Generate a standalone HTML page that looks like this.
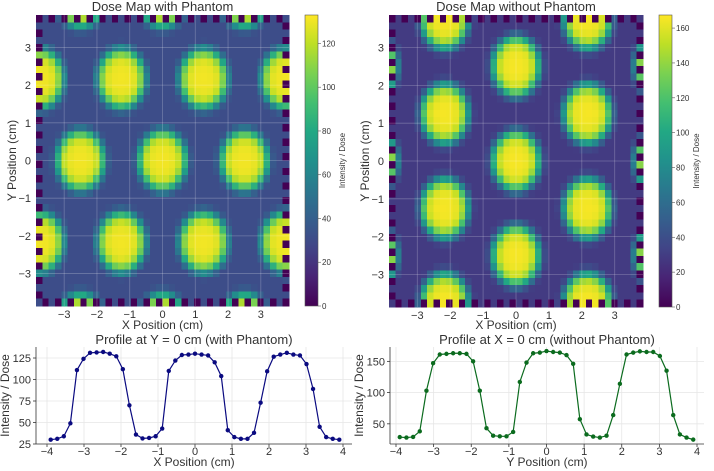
<!DOCTYPE html>
<html><head><meta charset="utf-8">
<style>
html,body{margin:0;padding:0;background:#fff;}
svg{display:block;font-family:"Liberation Sans","DejaVu Sans",sans-serif;}
</style></head>
<body>
<svg id="root" width="714" height="471" viewBox="0 0 714 471" xmlns="http://www.w3.org/2000/svg">
<defs>
<linearGradient id="vir" x1="0" y1="1" x2="0" y2="0">
<stop offset="0" stop-color="#440154"/><stop offset="0.1" stop-color="#482475"/><stop offset="0.2" stop-color="#414487"/><stop offset="0.3" stop-color="#355f8d"/><stop offset="0.4" stop-color="#2a788e"/><stop offset="0.5" stop-color="#21918c"/><stop offset="0.6" stop-color="#22a884"/><stop offset="0.7" stop-color="#44bf70"/><stop offset="0.8" stop-color="#7ad151"/><stop offset="0.9" stop-color="#bddf26"/><stop offset="1" stop-color="#fde725"/>
</linearGradient>
</defs>
<g id="layer"></g>
</svg>
<script>
// ---- data ----
const profileX = [];
for (let i = 0; i < 45; i++) profileX.push(-3.9 + i * 7.8 / 44);
const profileWith = [30,31,34,49,111,124,131,131.5,132,130,127,112,70,36,31.5,32,34,43,110,122,128.5,129,130,129,128,120,104,41,33,31,31,38,73,109.5,126.5,129,131,129,128,118,89,45,33,31,30];
const profileWithout = [28.7,28,29,38,103,147,161,162,163,163,162,150,103,43,31,30,30,37,117,148,163,164,166.5,165,164,160,146,57.5,33,29.6,28,31,64,114,161,164,166,165,165,158.6,135,64,33,28,24.7];
const spotsWithX = [0,-2.5,2.5,-1.25,1.25,-3.75,3.75,-1.25,1.25,-3.75,3.75,0,-2.5,2.5,0,-2.5,2.5];
const spotsWithY = [0,0,0,2.17,2.17,2.17,2.17,-2.17,-2.17,-2.17,-2.17,4.33,4.33,4.33,-4.33,-4.33,-4.33];
const spotsWithoutX = [0,0,0,-2.17,-2.17,2.17,2.17,-2.17,-2.17,2.17,2.17,-4.33,-4.33,-4.33,4.33,4.33,4.33];
const spotsWithoutY = [0,2.5,-2.5,1.25,-1.25,1.25,-1.25,3.75,-3.75,3.75,-3.75,0,2.5,-2.5,0,2.5,-2.5];
const radialR = [0,0.25,0.4,0.5,0.6,0.7,0.78,0.86,0.95];
const radialF = [1,0.99,0.96,0.9,0.75,0.5,0.25,0.08,0];
const peakWith = 131, bgWith = 31, maxWith = 133;
const peakWithout = 166, bgWithout = 29, maxWithout = 167.5;
const cbTicksWith = [0,20,40,60,80,100,120];
const cbTicksWithout = [0,20,40,60,80,100,120,140,160];
const mapTicks = [-3,-2,-1,0,1,2,3];
const profTicksX = [-4,-3,-2,-1,0,1,2,3,4];
const profTicksYWith = [25,50,75,100,125];
const profTicksYWithout = [50,100,150];

// ---- helpers ----
const NS = "http://www.w3.org/2000/svg";
const layer = document.getElementById('layer');
function mk(tag, attrs, parent) {
  const e = document.createElementNS(NS, tag);
  for (const k in attrs) e.setAttribute(k, attrs[k]);
  (parent || layer).appendChild(e);
  return e;
}
function txt(s, attrs, parent) { const e = mk('text', attrs, parent); e.textContent = s; return e; }
const vir = ["#440154","#482475","#414487","#355f8d","#2a788e","#21918c","#22a884","#44bf70","#7ad151","#bddf26","#fde725"];
function hex(h){return [parseInt(h.substr(1,2),16),parseInt(h.substr(3,2),16),parseInt(h.substr(5,2),16)];}
const virRGB = vir.map(hex);
function viridis(t){
  t = Math.max(0, Math.min(1, t)) * 10;
  const i = Math.min(9, Math.floor(t)), f = t - i;
  const a = virRGB[i], b = virRGB[i+1];
  return `rgb(${Math.round(a[0]+(b[0]-a[0])*f)},${Math.round(a[1]+(b[1]-a[1])*f)},${Math.round(a[2]+(b[2]-a[2])*f)})`;
}
function radial(r){
  if (r >= radialR[radialR.length-1]) return 0;
  for (let i = 1; i < radialR.length; i++) if (r <= radialR[i]) {
    const f = (r - radialR[i-1]) / (radialR[i] - radialR[i-1]);
    return radialF[i-1] + (radialF[i] - radialF[i-1]) * f;
  }
  return 0;
}

function drawMap(name, x0, y0, w, h, sx, sy, peak, bg, vmax, cbx, cbTicks, title) {
  const g = mk('g', {}, layer);
  
  
  const ext = 3.86, N = 40;
  const xs = v => x0 + (v + ext) / (2 * ext) * w;
  const ys = v => y0 + (ext - v) / (2 * ext) * h;
  const cw = w / N, ch = h / N;
  const cells = mk('g', {'shape-rendering': 'crispEdges'}, g);
  
  
  for (let j = 0; j < N; j++) for (let i = 0; i < N; i++) {
    const cx = -ext + (i + 0.5) * 2 * ext / N, cy = ext - (j + 0.5) * 2 * ext / N;
    let f = 0;
    for (let k = 0; k < sx.length; k++) {
      const d = Math.hypot(cx - sx[k], (cy - sy[k]) * 0.92);
      f = Math.max(f, radial(d));
    }
    let v = bg + (peak - bg) * f;
    const border = (i === 0 || j === 0 || i === N - 1 || j === N - 1);
    if (border && (i + j) % 2 === 0) v = 0;
    const r = mk('rect', {x: (x0 + i * cw).toFixed(2), y: (y0 + j * ch).toFixed(2), width: (cw + 0.6).toFixed(2), height: (ch + 0.6).toFixed(2), fill: viridis(v / vmax)}, cells);
    
    
  }
  mapTicks.forEach(t => {
    mk('line', {x1: xs(t), x2: xs(t), y1: y0, y2: y0 + h, stroke: '#ffffff', 'stroke-opacity': 0.25, 'stroke-width': 0.8}, g);
    mk('line', {x1: x0, x2: x0 + w, y1: ys(t), y2: ys(t), stroke: '#ffffff', 'stroke-opacity': 0.25, 'stroke-width': 0.8}, g);
    const lx = txt(t < 0 ? '\u2212' + (-t) : String(t), {x: xs(t), y: y0 + h + 12, 'font-size': 11, fill: '#333', 'text-anchor': 'middle'}, g);
    
    
    const ly = txt(t < 0 ? '\u2212' + (-t) : String(t), {x: x0 - 5, y: ys(t) + 4, 'font-size': 11, fill: '#333', 'text-anchor': 'end'}, g);
    
    
  });
  const tt = txt(title, {x: x0 + w / 2, y: 11, 'font-size': 13, fill: '#333', 'text-anchor': 'middle'}, g);
  
  
  const xl = txt('X Position (cm)', {x: x0 + w / 2, y: 329, 'font-size': 12, fill: '#333', 'text-anchor': 'middle'}, g);
  
  
  const yl = txt('Y Position (cm)', {x: 0, y: 0, 'font-size': 12, fill: '#333', 'text-anchor': 'middle', transform: `translate(${x0 - 20},${y0 + h / 2}) rotate(-90)`}, g);
  
  
  const cb = mk('rect', {x: cbx, y: y0, width: 13, height: h, fill: 'url(#vir)', stroke: '#555', 'stroke-width': 0.6}, g);
  
  
  cbTicks.forEach(t => {
    const yy = y0 + h - t / vmax * h;
    mk('line', {x1: cbx + 13, x2: cbx + 16, y1: yy, y2: yy, stroke: '#555', 'stroke-width': 0.6}, g);
    const l = txt(String(t), {x: cbx + 17, y: yy + 3, 'font-size': 8, fill: '#333'}, g);
    
    
  });
  const cl = txt('Intensity / Dose', {x: 0, y: 0, 'font-size': 8, fill: '#333', 'text-anchor': 'middle', transform: `translate(${cbx + 40},${y0 + h / 2}) rotate(-90)`}, g);
  
  
}

function drawProfile(name, ax0, ax1, ay0, ay1, xToPx, ylo, yhi, vals, ticksY, color, title, xlabel) {
  const g = mk('g', {}, layer);
  
  
  const xs = v => xToPx[0] + (v + 4) / 8 * (xToPx[1] - xToPx[0]);
  const ys = v => ay1 - (v - ylo) / (yhi - ylo) * (ay1 - ay0);
  profTicksX.forEach(t => {
    mk('line', {x1: xs(t), x2: xs(t), y1: ay0, y2: ay1, stroke: '#e6e6e6', 'stroke-width': 0.8}, g);
    mk('line', {x1: xs(t), x2: xs(t), y1: ay1, y2: ay1 + 3, stroke: '#333', 'stroke-width': 0.8}, g);
    const l = txt(t < 0 ? '\u2212' + (-t) : String(t), {x: xs(t), y: ay1 + 11, 'font-size': 11, fill: '#333', 'text-anchor': 'middle'}, g);
    
    
  });
  ticksY.forEach(t => {
    mk('line', {x1: ax0, x2: ax1, y1: ys(t), y2: ys(t), stroke: '#e6e6e6', 'stroke-width': 0.8}, g);
    mk('line', {x1: ax0 - 3, x2: ax0, y1: ys(t), y2: ys(t), stroke: '#333', 'stroke-width': 0.8}, g);
    const l = txt(String(t), {x: ax0 - 5, y: ys(t) + 4, 'font-size': 11, fill: '#333', 'text-anchor': 'end'}, g);
    
    
  });
  mk('line', {x1: ax0, x2: ax0, y1: ay0, y2: ay1, stroke: '#333', 'stroke-width': 0.8}, g);
  mk('line', {x1: ax0, x2: ax1, y1: ay1, y2: ay1, stroke: '#333', 'stroke-width': 0.8}, g);
  const pts = vals.map((v, i) => xs(profileX[i]).toFixed(2) + ',' + ys(v).toFixed(2)).join(' ');
  const line = mk('polyline', {points: pts, fill: 'none', stroke: color, 'stroke-width': 1.2}, g);
  
  
  vals.forEach((v, i) => {
    const c = mk('circle', {cx: xs(profileX[i]), cy: ys(v), r: 2.2, fill: color}, g);
    
    
  });
  const tt = txt(title, {x: (ax0 + ax1) / 2, y: 344, 'font-size': 13, fill: '#333', 'text-anchor': 'middle'}, g);
  
  
  const xl = txt(xlabel, {x: (ax0 + ax1) / 2, y: 466, 'font-size': 12, fill: '#333', 'text-anchor': 'middle'}, g);
  
  
  const yl = txt('Intensity / Dose', {x: 0, y: 0, 'font-size': 12, fill: '#333', 'text-anchor': 'middle', transform: `translate(${ax0 - 27},${(ay0 + ay1) / 2}) rotate(-90)`}, g);
  
  
}

drawMap('dose-map-with-phantom', 36, 15, 253, 291, spotsWithX, spotsWithY, peakWith, bgWith, maxWith, 305, cbTicksWith, 'Dose Map with Phantom');
drawMap('dose-map-without-phantom', 389, 15, 254, 292, spotsWithoutX, spotsWithoutY, peakWithout, bgWithout, maxWithout, 659, cbTicksWithout, 'Dose Map without Phantom');
drawProfile('profile-with-phantom', 36, 352, 347, 444, [47, 343], 25, 137.8, profileWith, profTicksYWith, '#0a0a80', 'Profile at Y = 0 cm (with Phantom)', 'X Position (cm)');
drawProfile('profile-without-phantom', 390, 704, 347, 444, [396, 697], 17.7, 173, profileWithout, profTicksYWithout, '#0b6b1e', 'Profile at X = 0 cm (without Phantom)', 'Y Position (cm)');
</script>
</body></html>
